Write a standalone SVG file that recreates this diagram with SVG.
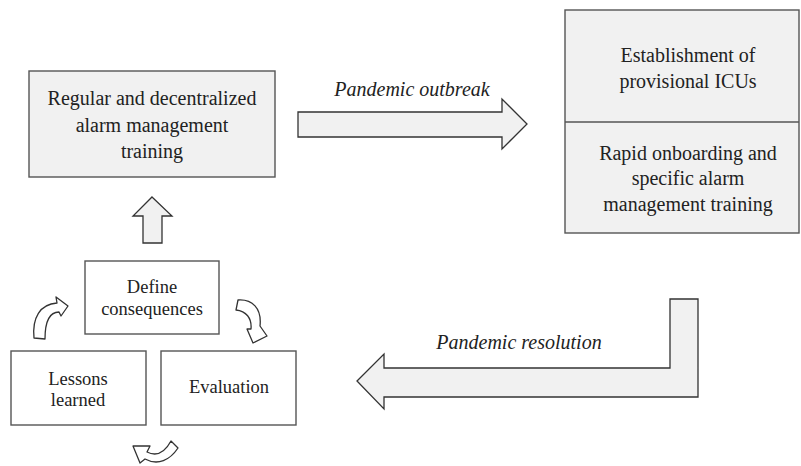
<svg xmlns="http://www.w3.org/2000/svg" width="801" height="466" viewBox="0 0 801 466" font-family="Liberation Serif, serif">
<style>
.box{stroke:#555;stroke-width:1.4;}
.grey{fill:#f1f1f1;}
.white{fill:#fff;}
.arrow{fill:#f1f1f1;stroke:#333;stroke-width:1.3;stroke-linejoin:miter;}
.curl{fill:#fff;stroke:#333;stroke-width:1.3;stroke-linejoin:round;}
.t{fill:#222;text-anchor:middle;}
.big{font-size:20px;}
.small{font-size:18.5px;}
.lbl{font-size:20px;font-style:italic;}
</style>
<rect width="801" height="466" fill="#fff"/>
<g id="connectors">
  <polygon class="arrow" points="298,112 502,112 502,99 527,124 502,149 502,137 298,137"/>
  <text class="t lbl" x="412" y="96">Pandemic outbreak</text>
  <polygon class="arrow" points="357,381 384,354 384,368 670,368 670,299 698,299 698,397 384,397 384,409"/>
  <text class="t lbl" x="519" y="349">Pandemic resolution</text>
  <polygon class="arrow" points="152,197 172,216 162,216 162,243 143,243 143,216 133,216"/>
  <path class="curl" d="M34,338 C32,318 40,304 57,303 L56,297 L68,306 L61,316 L59,312 C51,312 45,318 45,339 Z"/>
  <path class="curl" d="M238,300 C252,299 262,308 260,326 L267,336 L253,343 L247,329 L251,329 C252,318 246,311 236,310 Z"/>
  <path class="curl" d="M171,441 L178,448 C170,460 158,466 145,459 L140,463 L133,446 L150,446 L147,452 C157,457 165,452 171,441 Z"/>
</g>
<g id="node-regular">
  <rect class="box grey" x="29" y="71" width="246" height="106"/>
  <text class="t big" x="152" y="105">Regular and decentralized</text>
  <text class="t big" x="152" y="132">alarm management</text>
  <text class="t big" x="152" y="158">training</text>
</g>
<g id="node-provisional">
  <rect class="box grey" x="565" y="10" width="234" height="223"/>
  <line class="box" x1="565" y1="122" x2="799" y2="122"/>
  <text class="t big" x="688" y="62">Establishment of</text>
  <text class="t big" x="688" y="88">provisional ICUs</text>
  <text class="t big" x="688" y="160">Rapid onboarding and</text>
  <text class="t big" x="688" y="185">specific alarm</text>
  <text class="t big" x="688" y="211">management training</text>
</g>
<g id="node-define">
  <rect class="box white" x="85" y="261" width="134" height="73"/>
  <text class="t small" x="152" y="293">Define</text>
  <text class="t small" x="152" y="315">consequences</text>
</g>
<g id="node-lessons">
  <rect class="box white" x="11" y="351" width="135" height="74"/>
  <text class="t small" x="78" y="385">Lessons</text>
  <text class="t small" x="78" y="406">learned</text>
</g>
<g id="node-evaluation">
  <rect class="box white" x="161" y="351" width="135" height="74"/>
  <text class="t small" x="229" y="393">Evaluation</text>
</g>
</svg>
